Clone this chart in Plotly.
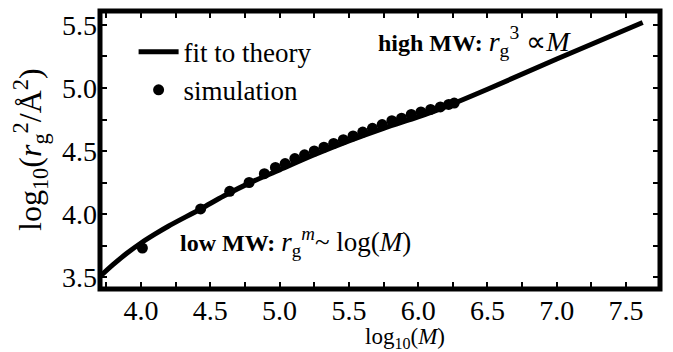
import plotly.graph_objects as go

# Fit-to-theory curve
fit_x = [3.70, 3.80, 3.90, 4.00, 4.10, 4.20, 4.43, 4.60, 4.80, 5.00, 5.25, 5.50, 5.75, 6.00, 6.15, 6.50, 7.00, 7.62]
fit_y = [3.50, 3.60, 3.69, 3.77, 3.84, 3.905, 4.04, 4.145, 4.255, 4.35, 4.47, 4.58, 4.68, 4.77, 4.83, 4.99, 5.23, 5.52]

# Simulation points
sim_x = [4.01, 4.43, 4.64, 4.78, 4.89, 4.97, 5.04, 5.11, 5.18, 5.25, 5.32, 5.39, 5.46,
         5.53, 5.60, 5.67, 5.74, 5.81, 5.88, 5.95, 6.02, 6.09, 6.16, 6.22, 6.26]
sim_y = [3.73, 4.04, 4.18, 4.25, 4.32, 4.37, 4.40, 4.44, 4.47, 4.50, 4.53, 4.56, 4.59,
         4.62, 4.65, 4.68, 4.71, 4.74, 4.76, 4.79, 4.81, 4.83, 4.85, 4.87, 4.88]

x_tickvals = [3.75, 4.0, 4.25, 4.5, 4.75, 5.0, 5.25, 5.5, 5.75, 6.0, 6.25, 6.5, 6.75, 7.0, 7.25, 7.5]
x_ticktext = ["", "4.0", "", "4.5", "", "5.0", "", "5.5", "", "6.0", "", "6.5", "", "7.0", "", "7.5"]
y_tickvals = [3.5, 3.75, 4.0, 4.25, 4.5, 4.75, 5.0, 5.25, 5.5]
y_ticktext = ["3.5", "", "4.0", "", "4.5", "", "5.0", "", "5.5"]

FONT = "Liberation Serif, Times New Roman, serif"

# plot area in pixels
L, R, T, B = 100, 660, 11, 289
W, H = 673, 352
PW, PH = R - L, B - T

def px(x):
    return (x - L) / PW

def py(y):
    return (B - y) / PH

fig = go.Figure()
fig.add_trace(go.Scatter(x=fit_x, y=fit_y, mode="lines", name="fit to theory",
                         line=dict(color="black", width=5, shape="spline", smoothing=1.0)))
fig.add_trace(go.Scatter(x=sim_x, y=sim_y, mode="markers", name="simulation",
                         marker=dict(color="black", size=11)))

axis_common = dict(showline=False, mirror="ticks",
                   ticks="inside", ticklen=7, tickwidth=2, tickcolor="black",
                   showgrid=False, zeroline=False,
                   tickfont=dict(family=FONT, size=28, color="black"))

fig.update_xaxes(range=[3.704, 7.745], tickvals=x_tickvals, ticktext=x_ticktext,
                 ticklabelstandoff=2, **axis_common)
fig.update_yaxes(range=[3.405, 5.611], tickvals=y_tickvals, ticktext=y_ticktext,
                 ticklabelstandoff=2, **axis_common)

# frame
fig.add_shape(type="rect", xref="paper", yref="paper", x0=0, x1=1, y0=0, y1=1,
              line=dict(color="black", width=5), fillcolor="rgba(0,0,0,0)", layer="above")

# axis titles
fig.add_annotation(xref="paper", yref="paper", x=px(405), y=py(338),
                   xanchor="center", yanchor="middle", showarrow=False,
                   text="log<sub>10</sub>(<i>M</i>)",
                   font=dict(family=FONT, size=23, color="black"))
fig.add_annotation(xref="paper", yref="paper", x=px(30), y=py(150),
                   xanchor="center", yanchor="middle", showarrow=False, textangle=-90,
                   text="log<sub>10</sub>(<i>r</i><sub>g</sub><sup>2</sup>/Å<sup>2</sup>)",
                   font=dict(family=FONT, size=32, color="black"))

# regime labels
fig.add_annotation(xref="paper", yref="paper", x=px(376), y=py(42),
                   xanchor="left", yanchor="middle", showarrow=False,
                   text="<b>high MW:</b> <span style='font-size:28px'><i>r</i><sub>g</sub><sup>3</sup> ∝<i>M</i></span>",
                   font=dict(family=FONT, size=24, color="black"))
fig.add_annotation(xref="paper", yref="paper", x=px(178), y=py(242),
                   xanchor="left", yanchor="middle", showarrow=False,
                   text="<b>low MW:</b> <span style='font-size:27px'><i>r</i><sub>g</sub><sup><i>m</i></sup>~ log(<i>M</i>)</span>",
                   font=dict(family=FONT, size=24, color="black"))

fig.update_layout(
    width=W, height=H,
    margin=dict(l=L, r=W - R, t=T, b=H - B),
    plot_bgcolor="white", paper_bgcolor="white",
    font=dict(family=FONT, color="black"),
    legend=dict(x=0.06, y=0.94, xanchor="left", yanchor="top",
                bgcolor="rgba(0,0,0,0)", font=dict(family=FONT, size=27, color="black"),
                itemwidth=40),
    showlegend=True,
)

fig.write_html("out.html", config={"displayModeBar": False},
               post_script="document.body.style.margin='0px';")
